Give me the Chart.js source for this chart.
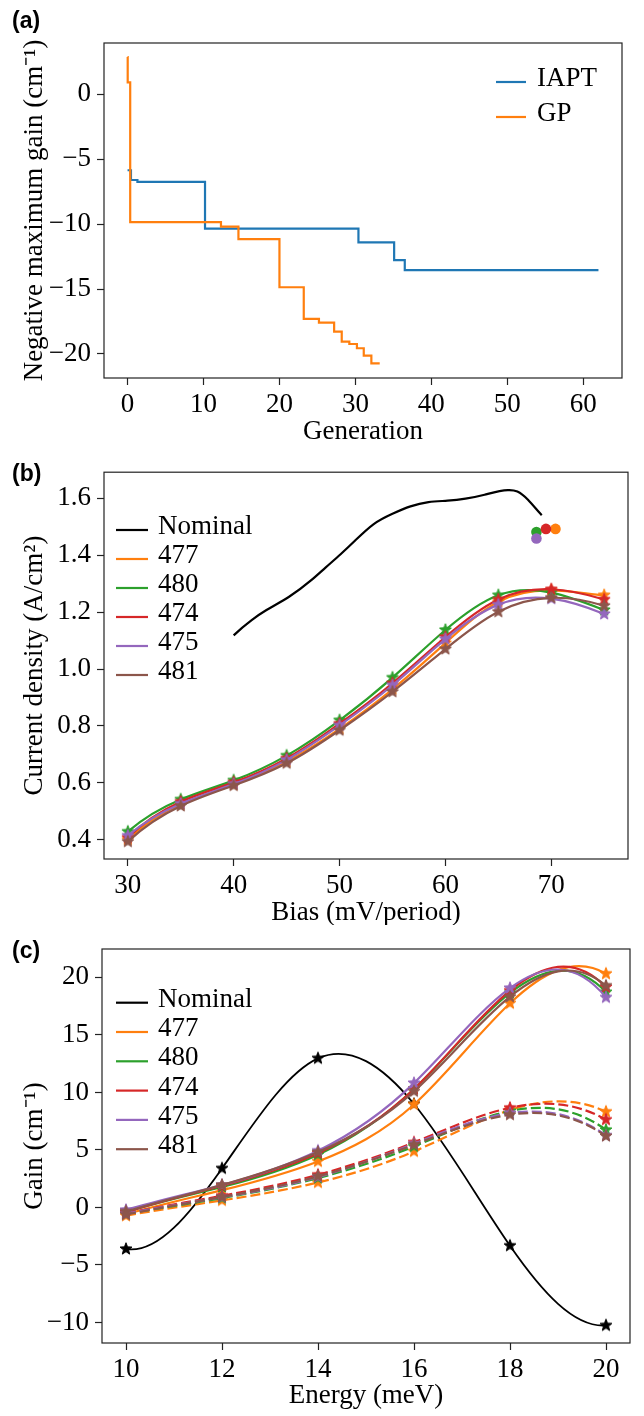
<!DOCTYPE html>
<html><head><meta charset="utf-8">
<script src="https://cdn.jsdelivr.net/npm/chart.js@4.4.0/dist/chart.umd.min.js"></script>
<style>
html,body{margin:0;padding:0;background:#fff;}
#wrap{position:relative;width:644px;height:1416px;overflow:hidden;background:#fff;}
canvas{position:absolute;left:0;}
.pl{position:absolute;left:12px;font-family:'Liberation Sans',Arial,sans-serif;font-weight:bold;font-size:23px;line-height:23px;color:#000;}
</style></head>
<body><div id="wrap">
<canvas id="ca" width="644" height="450" style="top:0px"></canvas>
<canvas id="cb" width="644" height="475" style="top:450px"></canvas>
<canvas id="cc" width="644" height="491" style="top:925px"></canvas>
<div class="pl" style="top:9px">(a)</div>
<div class="pl" style="top:462px">(b)</div>
<div class="pl" style="top:939px">(c)</div>
</div>
<script>
// ---------- Panel (a) data ----------
const iaptGen  = [0, 0.45, 1.3, 10.2, 30.4, 35.1, 36.5, 62];
const iaptGain = [-5.85, -6.6, -6.75, -10.35, -11.4, -12.77, -13.54, -13.54];
const gpGen  = [0, 0.02, 0.35, 12.3, 14.6, 20.0, 23.2, 25.2, 27.2, 28.2, 29.2, 30.2, 31.1, 32.1, 33.2];
const gpGain = [2.87, 0.91, -9.85, -10.19, -11.16, -14.86, -17.30, -17.59, -18.28, -19.05, -19.23, -19.56, -20.13, -20.72, -20.72];
const aXTicks = [0, 10, 20, 30, 40, 50, 60];
const aYTicks = [0, -5, -10, -15, -20];

// ---------- Panel (b) data ----------
const seriesNames = ['477', '480', '474', '475', '481'];
const biasV = [30, 35, 40, 45, 50, 55, 60, 65, 70, 75];
const jb477 = [0.401, 0.525, 0.594, 0.675, 0.790, 0.929, 1.091, 1.236, 1.276, 1.259];
const jb480 = [0.429, 0.542, 0.609, 0.696, 0.820, 0.970, 1.137, 1.259, 1.268, 1.207];
const jb474 = [0.408, 0.534, 0.602, 0.686, 0.808, 0.950, 1.112, 1.244, 1.280, 1.244];
const jb475 = [0.415, 0.527, 0.596, 0.681, 0.802, 0.943, 1.105, 1.226, 1.247, 1.193];
const jb481 = [0.394, 0.519, 0.591, 0.669, 0.785, 0.920, 1.070, 1.201, 1.250, 1.222];
const nomBiasV = [40, 41.7, 43.1, 45.2, 47.3, 48.7, 50.1, 51.5, 53.2, 55.0, 56.7, 58.4, 60.2, 61.9, 63.7, 65.9, 66.8, 67.8, 69.1];
const nomJ     = [1.118, 1.172, 1.207, 1.253, 1.311, 1.357, 1.403, 1.452, 1.508, 1.545, 1.571, 1.586, 1.591, 1.598, 1.612, 1.628, 1.623, 1.594, 1.540];
// single operating points (477, 480, 474, 475)
const dotBias = [70.4, 68.6, 69.5, 68.6];
const dotJ    = [1.492, 1.481, 1.492, 1.458];
const bXTicks = [30, 40, 50, 60, 70];
const bYTicks = [0.4, 0.6, 0.8, 1.0, 1.2, 1.4, 1.6];

// ---------- Panel (c) data ----------
const energy = [10, 12, 14, 16, 18, 20];
const gNominal = [-3.62, 3.39, 12.96, 8.99, -3.33, -10.26];
const g477 = [-0.60, 1.50, 4.00, 8.95, 17.75, 20.32];
const g480 = [-0.42, 1.77, 4.58, 10.30, 18.65, 18.72];
const g474 = [-0.42, 1.88, 4.72, 10.30, 18.85, 19.16];
const g475 = [-0.22, 1.95, 4.93, 10.81, 19.07, 18.26];
const g481 = [-0.35, 1.95, 4.81, 10.09, 18.32, 19.28];
const gd477 = [-0.72, 0.61, 2.17, 4.87, 8.47, 8.32];
const gd480 = [-0.55, 0.81, 2.55, 5.30, 8.38, 6.74];
const gd474 = [-0.50, 1.01, 2.84, 5.65, 8.66, 7.63];
const gd475 = [-0.55, 0.88, 2.64, 5.54, 8.20, 6.25];
const gd481 = [-0.62, 0.90, 2.70, 5.45, 8.06, 6.20];
const cXTicks = [10, 12, 14, 16, 18, 20];
const cYTicks = [-10, -5, 0, 5, 10, 15, 20];

// ---------- styling ----------
const COLORS = ['#ff7f0e', '#2ca02c', '#d62728', '#9467bd', '#8c564b'];
const FS = 27;
const FONT = "'Liberation Serif', 'Times New Roman', serif";
Chart.defaults.font.family = FONT;
Chart.defaults.font.size = FS;
Chart.defaults.color = '#000';

function pts(xs, ys) { return xs.map((x, i) => ({x: x, y: ys[i]})); }
function minus(v) { return v < 0 ? '\u2212' + Math.abs(v) : String(v); }

function makeStar(color, r) {
  const s = Math.ceil(r * 2 + 3);
  const c = document.createElement('canvas');
  c.width = s; c.height = s;
  const g = c.getContext('2d');
  g.translate(s / 2, s / 2);
  g.beginPath();
  for (let i = 0; i < 10; i++) {
    const rr = i % 2 ? r * 0.42 : r;
    const a = -Math.PI / 2 + i * Math.PI / 5;
    g.lineTo(rr * Math.cos(a), rr * Math.sin(a));
  }
  g.closePath();
  g.fillStyle = color; g.fill();
  g.lineWidth = 1; g.strokeStyle = color; g.stroke();
  return c;
}

// cubic spline (not-a-knot) rendering of Chart.js bezier control points
function solve(A, b) {
  const n = b.length;
  for (let c = 0; c < n; c++) {
    let p = c;
    for (let r = c + 1; r < n; r++) if (Math.abs(A[r][c]) > Math.abs(A[p][c])) p = r;
    [A[c], A[p]] = [A[p], A[c]]; [b[c], b[p]] = [b[p], b[c]];
    for (let r = c + 1; r < n; r++) {
      const f = A[r][c] / A[c][c];
      for (let k = c; k < n; k++) A[r][k] -= f * A[c][k];
      b[r] -= f * b[c];
    }
  }
  const x = new Array(n).fill(0);
  for (let r = n - 1; r >= 0; r--) {
    let s = b[r];
    for (let k = r + 1; k < n; k++) s -= A[r][k] * x[k];
    x[r] = s / A[r][r];
  }
  return x;
}
function splineSlopes(xs, ys) {
  const n = xs.length, h = [];
  for (let i = 0; i < n - 1; i++) h.push(xs[i + 1] - xs[i]);
  const A = Array.from({length: n}, () => new Array(n).fill(0));
  const b = new Array(n).fill(0);
  A[0][0] = h[1]; A[0][1] = -(h[0] + h[1]); A[0][2] = h[0];
  A[n - 1][n - 3] = h[n - 2]; A[n - 1][n - 2] = -(h[n - 3] + h[n - 2]); A[n - 1][n - 1] = h[n - 3];
  for (let i = 1; i < n - 1; i++) {
    A[i][i - 1] = h[i - 1]; A[i][i] = 2 * (h[i - 1] + h[i]); A[i][i + 1] = h[i];
    b[i] = 6 * ((ys[i + 1] - ys[i]) / h[i] - (ys[i] - ys[i - 1]) / h[i - 1]);
  }
  const M = solve(A, b), m = [];
  for (let i = 0; i < n - 1; i++) m.push((ys[i + 1] - ys[i]) / h[i] - h[i] * (2 * M[i] + M[i + 1]) / 6);
  m.push((ys[n - 1] - ys[n - 2]) / h[n - 2] + h[n - 2] * (M[n - 2] + 2 * M[n - 1]) / 6);
  return m;
}
const splinePlugin = {
  id: 'splineCurve',
  beforeDatasetDraw(chart, args) {
    const ds = chart.data.datasets[args.index];
    if (!ds.spline) return;
    const line = args.meta.dataset;
    if (!line) return;
    line.updateControlPoints(chart.chartArea, 'x');
    const P = line.points;
    if (P.length < 4) return;
    const xs = P.map(p => p.x), ys = P.map(p => p.y);
    const m = splineSlopes(xs, ys);
    for (let i = 0; i < P.length; i++) {
      if (i > 0) { const h = xs[i] - xs[i - 1]; P[i].cp1x = xs[i] - h / 3; P[i].cp1y = ys[i] - m[i] * h / 3; }
      else { P[i].cp1x = xs[i]; P[i].cp1y = ys[i]; }
      if (i < P.length - 1) { const h = xs[i + 1] - xs[i]; P[i].cp2x = xs[i] + h / 3; P[i].cp2y = ys[i] + m[i] * h / 3; }
      else { P[i].cp2x = xs[i]; P[i].cp2y = ys[i]; }
    }
    line._path = undefined;
  }
};

const framePlugin = {
  id: 'frame',
  afterDatasetsDraw(chart) {
    const a = chart.chartArea, ctx = chart.ctx;
    ctx.save();
    ctx.strokeStyle = '#222'; ctx.lineWidth = 1.2;
    ctx.strokeRect(a.left, a.top, a.right - a.left, a.bottom - a.top);
    ctx.restore();
  }
};
const legendPlugin = {
  id: 'mylegend',
  afterDraw(chart) {
    const o = chart.options.plugins.mylegend;
    if (!o) return;
    const ctx = chart.ctx;
    ctx.save();
    ctx.font = FS + 'px ' + FONT;
    ctx.textBaseline = 'middle';
    ctx.textAlign = 'left';
    o.items.forEach((it, i) => {
      const y = o.y0 + i * o.dy;
      ctx.strokeStyle = it.color; ctx.lineWidth = 2.2;
      ctx.beginPath(); ctx.moveTo(o.x0, y); ctx.lineTo(o.x1, y); ctx.stroke();
      ctx.fillStyle = '#000';
      ctx.fillText(it.label, o.tx, y - 3);
    });
    ctx.restore();
  }
};

function layoutFor(area, canvasTop, canvasH, yTitleX, xTitleY) {
  const half = FS * 1.2 / 2;
  const padL = yTitleX - half;
  const axisBottom = (xTitleY - canvasTop) + half;
  return {
    padding: {left: padL, right: 644 - area.right, top: area.top - canvasTop, bottom: canvasH - axisBottom},
    yW: area.left - padL,
    xH: axisBottom - (area.bottom - canvasTop)
  };
}

function axisX(min, max, ticksArr, title, h, fmt) {
  return {
    type: 'linear', min: min, max: max,
    afterBuildTicks: s => { s.ticks = ticksArr.map(v => ({value: v})); },
    afterFit: s => { s.height = h; },
    ticks: {autoSkip: false, maxRotation: 0, padding: 4, callback: v => fmt(v), font: {size: FS}},
    grid: {display: true, drawOnChartArea: false, drawTicks: true, tickLength: 7, tickColor: '#222', tickWidth: 1.2},
    border: {display: false},
    title: {display: true, text: title, padding: 0, font: {size: FS}}
  };
}
function axisY(min, max, ticksArr, title, w, fmt) {
  return {
    type: 'linear', min: min, max: max,
    afterBuildTicks: s => { s.ticks = ticksArr.map(v => ({value: v})); },
    afterFit: s => { s.width = w; },
    ticks: {autoSkip: false, padding: 6, callback: v => fmt(v), font: {size: FS}},
    grid: {display: true, drawOnChartArea: false, drawTicks: true, tickLength: 7, tickColor: '#222', tickWidth: 1.2},
    border: {display: false},
    title: {display: true, text: title, padding: 0, font: {size: FS}}
  };
}
function baseOptions(L, xAxis, yAxis, legend) {
  return {
    responsive: false, animation: false, devicePixelRatio: 1,
    layout: {padding: L.padding},
    scales: {x: xAxis, y: yAxis},
    plugins: {legend: {display: false}, tooltip: {enabled: false}, mylegend: legend},
    elements: {point: {hitRadius: 0}}
  };
}

const STAR_R = 6.3;

// ---------- Chart (a) ----------
(function () {
  const area = {left: 104, right: 622, top: 43, bottom: 378};
  const L = layoutFor(area, 0, 450, 35, 432);
  new Chart(document.getElementById('ca'), {
    type: 'line',
    data: {datasets: [
      {label: 'IAPT', data: pts(iaptGen, iaptGain), borderColor: '#1f77b4', borderWidth: 2.2, stepped: 'before', pointRadius: 0, fill: false, order: 2},
      {label: 'GP', data: pts(gpGen, gpGain), borderColor: '#ff7f0e', borderWidth: 2.2, stepped: 'before', pointRadius: 0, fill: false, order: 1}
    ]},
    options: baseOptions(L,
      axisX(-3.1, 65.1, aXTicks, 'Generation', L.xH, v => String(v)),
      axisY(-21.85, 3.95, aYTicks, 'Negative maximum gain (cm\u207B\u00B9)', L.yW, minus),
      {items: [{label: 'IAPT', color: '#1f77b4'}, {label: 'GP', color: '#ff7f0e'}], x0: 496, x1: 526, tx: 537, y0: 82, dy: 35}),
    plugins: [framePlugin, legendPlugin]
  });
})();

// ---------- Chart (b) ----------
(function () {
  const area = {left: 104, right: 628, top: 467, bottom: 859};
  const L = layoutFor(area, 450, 475, 35, 913);
  const series = [jb477, jb480, jb474, jb475, jb481];
  const ds = [{label: 'Nominal', data: pts(nomBiasV, nomJ), borderColor: '#000', borderWidth: 2.2, pointRadius: 0, tension: 0.4, spline: true, fill: false, order: 0}];
  series.forEach((s, i) => {
    ds.push({label: seriesNames[i], data: pts(biasV, s), borderColor: COLORS[i], borderWidth: 2.2,
      pointStyle: makeStar(COLORS[i], STAR_R), pointRadius: 6, tension: 0.4, spline: true, fill: false, order: -i - 1});
  });
  dotBias.forEach((b, i) => {
    ds.push({label: 'op' + seriesNames[i], data: [{x: b, y: dotJ[i]}], showLine: false, pointStyle: 'circle',
      pointRadius: 5.3, backgroundColor: COLORS[i], borderColor: COLORS[i], borderWidth: 0, order: -10 - i});
  });
  new Chart(document.getElementById('cb'), {
    type: 'line',
    data: {datasets: ds},
    options: baseOptions(L,
      axisX(27.75, 77.25, bXTicks, 'Bias (mV/period)', L.xH, v => String(v)),
      axisY(0.333, 1.691, bYTicks, 'Current density (A/cm\u00B2)', L.yW, v => v.toFixed(1)),
      {items: [{label: 'Nominal', color: '#000'}].concat(seriesNames.map((n, i) => ({label: n, color: COLORS[i]}))),
        x0: 116, x1: 148, tx: 158, y0: 530 - 450, dy: 29}),
    plugins: [splinePlugin, framePlugin, legendPlugin]
  });
})();

// ---------- Chart (c) ----------
(function () {
  const area = {left: 102, right: 630, top: 949, bottom: 1343};
  const L = layoutFor(area, 925, 491, 35, 1396);
  const solid = [g477, g480, g474, g475, g481];
  const dashed = [gd477, gd480, gd474, gd475, gd481];
  const ds = [{label: 'Nominal', data: pts(energy, gNominal), borderColor: '#000', borderWidth: 1.8,
    pointStyle: makeStar('#000', STAR_R), pointRadius: 6, tension: 0.4, spline: true, fill: false, order: 0}];
  solid.forEach((s, i) => {
    ds.push({label: seriesNames[i], data: pts(energy, s), borderColor: COLORS[i], borderWidth: 2.2,
      pointStyle: makeStar(COLORS[i], STAR_R), pointRadius: 6, tension: 0.4, spline: true, fill: false, order: -2 * i - 1});
    ds.push({label: seriesNames[i] + ' dashed', data: pts(energy, dashed[i]), borderColor: COLORS[i], borderWidth: 2.2,
      borderDash: [10, 4], pointStyle: makeStar(COLORS[i], STAR_R), pointRadius: 6, tension: 0.4, spline: true, fill: false, order: -2 * i - 2});
  });
  new Chart(document.getElementById('cc'), {
    type: 'line',
    data: {datasets: ds},
    options: baseOptions(L,
      axisX(9.5, 20.5, cXTicks, 'Energy (meV)', L.xH, v => String(v)),
      axisY(-11.79, 22.47, cYTicks, 'Gain (cm\u207B\u00B9)', L.yW, minus),
      {items: [{label: 'Nominal', color: '#000'}].concat(seriesNames.map((n, i) => ({label: n, color: COLORS[i]}))),
        x0: 116, x1: 148, tx: 158, y0: 1002.7 - 925, dy: 29.3}),
    plugins: [splinePlugin, framePlugin, legendPlugin]
  });
})();
</script>
</body></html>
